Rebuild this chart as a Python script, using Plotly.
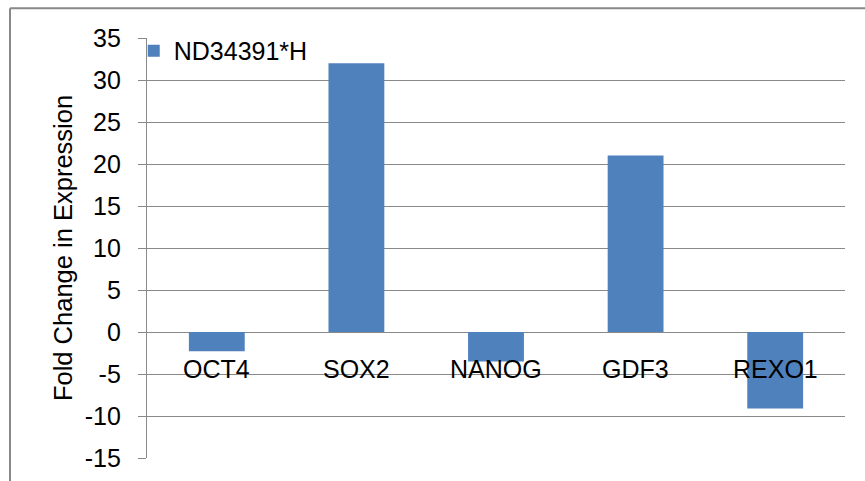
import plotly.graph_objects as go

categories = ["OCT4", "SOX2", "NANOG", "GDF3", "REXO1"]
values = [-2.3, 32.0, -3.5, 21.0, -9.1]
series_name = "ND34391*H"
y_ticks = [-15, -10, -5, 0, 5, 10, 15, 20, 25, 30, 35]
y_tick_labels = ["-15", "-10", "-5", "0", "5", "10", "15", "20", "25", "30", "35"]

FONT = "Liberation Sans, Arial, sans-serif"
GRID = "#898989"
BAR = "#4F81BD"
FS = 25

W, H = 865, 481
L, R, T, B = 147, 20, 37.7, 23

fig = go.Figure()
fig.add_trace(go.Bar(
    x=categories, y=values, name=series_name,
    marker=dict(color=BAR, line=dict(width=0)),
    width=0.4, showlegend=True,
))

pw = W - L - R
ph = H - T - B

annotations = [
    dict(x=c, y=0, xref="x", yref="y", text=c, showarrow=False,
         yanchor="middle", yshift=-37,
         font=dict(family=FONT, size=FS, color="#000000"))
    for c in categories
]

shapes = [
    dict(type="line", xref="paper", yref="paper",
         x0=(10 - L) / pw, x1=(10 - L) / pw,
         y0=-0.2, y1=(H - B - 8) / ph,
         line=dict(color=GRID, width=2)),
    dict(type="line", xref="paper", yref="paper",
         x0=(10 - L) / pw, x1=1.1,
         y0=(H - B - 8) / ph, y1=(H - B - 8) / ph,
         line=dict(color=GRID, width=2)),
]

fig.update_layout(
    width=W, height=H,
    margin=dict(l=L, r=R, t=T, b=B, autoexpand=False),
    paper_bgcolor="white", plot_bgcolor="white",
    font=dict(family=FONT, size=FS, color="#000000"),
    xaxis=dict(showticklabels=False, showgrid=False, zeroline=False,
               showline=False, ticks="", range=[-0.5, 4.5]),
    yaxis=dict(range=[-15, 35], tickvals=y_ticks, ticktext=y_tick_labels,
               showgrid=True,
               gridcolor=GRID, gridwidth=1.3, zeroline=False,
               showline=True, linecolor=GRID, linewidth=1.3,
               ticks="outside", ticklen=8, tickcolor=GRID, tickwidth=1.3,
               ticklabelstandoff=12,
               tickfont=dict(family=FONT, size=FS),
               title=dict(text="Fold Change in Expression",
                          font=dict(family=FONT, size=25.5), standoff=4)),
    legend=dict(x=-0.019, y=1.024, xanchor="left", yanchor="top",
                bgcolor="rgba(0,0,0,0)", font=dict(family=FONT, size=FS),
                itemwidth=30, tracegroupgap=0),
    annotations=annotations,
    shapes=shapes,
)

fig.write_html("out.html")
